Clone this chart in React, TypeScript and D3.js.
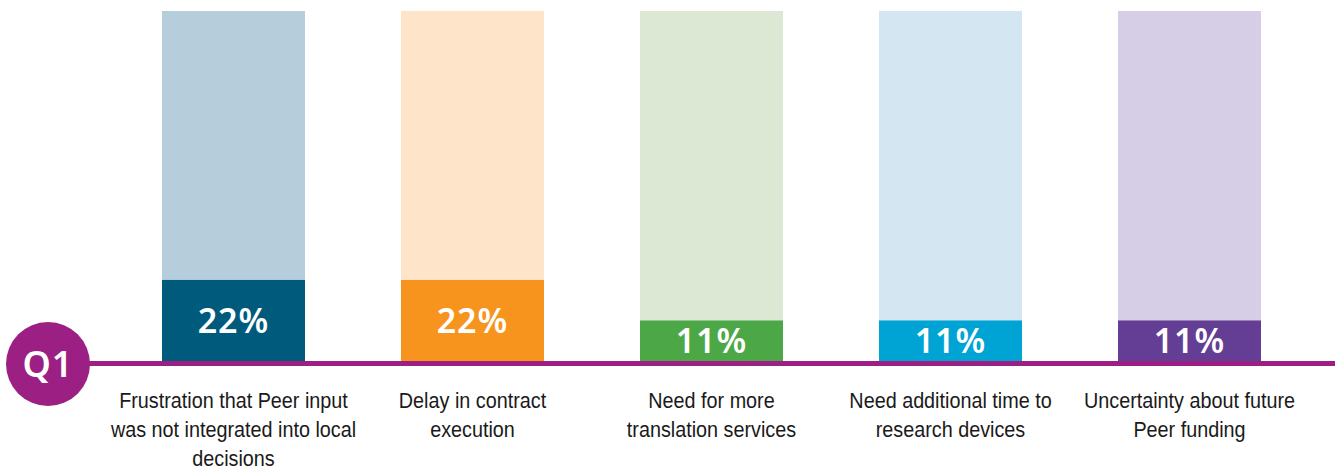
import * as d3 from "d3";

const categories = [
  "Frustration that Peer input was not integrated into local decisions",
  "Delay in contract execution",
  "Need for more translation services",
  "Need additional time to research devices",
  "Uncertainty about future Peer funding",
];
// label line breaks as printed under each bar
const categoryLines = [
  ["Frustration that Peer input", "was not integrated into local", "decisions"],
  ["Delay in contract", "execution"],
  ["Need for more", "translation services"],
  ["Need additional time to", "research devices"],
  ["Uncertainty about future", "Peer funding"],
];
const values = [22, 22, 11, 11, 11];
const barColors = ["#005a7b", "#f7941d", "#4ca847", "#00a4d4", "#643d94"];
const trackColors = ["#b6cedb", "#fee5c9", "#dce8d4", "#d4e6f2", "#d5cee6"];

const width = 1335;
const height = 469;
const baseline = 361;
const trackTop = 11;
const accent = "#9c1f83";

const xScale = d3
  .scaleBand<string>()
  .domain(categories)
  .range([162, 1261])
  .paddingInner(0.4017)
  .paddingOuter(0);

const yScale = d3.scaleLinear().domain([0, 95]).range([baseline, trackTop]);

export default function App() {
  return (
    <svg
      width={width}
      height={height}
      viewBox={`0 0 ${width} ${height}`}
      style={{ position: "absolute", left: 0, top: 0, background: "#fff" }}
    >
      <g className="bars">
        {categories.map((c, i) => {
          const x = xScale(c) ?? 0;
          const bw = xScale.bandwidth();
          const y = yScale(values[i]);
          return (
            <g key={c}>
              <rect x={x} y={trackTop} width={bw} height={baseline - trackTop} fill={trackColors[i]} />
              <rect x={x} y={y} width={bw} height={baseline - y} fill={barColors[i]} />
              <text
                x={x + bw / 2}
                y={(y + baseline) / 2}
                dy="0.36em"
                textAnchor="middle"
                fill="#fff"
                fontFamily="'Noto Sans', 'Open Sans', sans-serif"
                fontWeight={600}
                fontSize={34}
                letterSpacing={1}
              >
                {values[i]}%
              </text>
            </g>
          );
        })}
      </g>
      <line x1={60} x2={width} y1={baseline + 2.5} y2={baseline + 2.5} stroke={accent} strokeWidth={5} />
      <circle cx={48} cy={364} r={42} fill={accent} />
      <text
        x={48}
        y={364}
        dy="0.36em"
        textAnchor="middle"
        fill="#fff"
        fontFamily="'Noto Sans', 'Open Sans', sans-serif"
        fontWeight={600}
        fontSize={36}
        letterSpacing={1}
      >
        Q1
      </text>
      <g className="labels">
        {categories.map((c, i) => {
          const x = (xScale(c) ?? 0) + xScale.bandwidth() / 2;
          return (
            <g key={c} transform={`translate(${x},0) scale(0.9,1)`}>
              <text
                textAnchor="middle"
                fill="#1a1a1a"
                fontFamily="'Liberation Sans', Arial, sans-serif"
                fontSize={22}
              >
                {categoryLines[i].map((line, j) => (
                  <tspan key={j} x={0} y={408 + j * 29}>
                    {line}
                  </tspan>
                ))}
              </text>
            </g>
          );
        })}
      </g>
    </svg>
  );
}
